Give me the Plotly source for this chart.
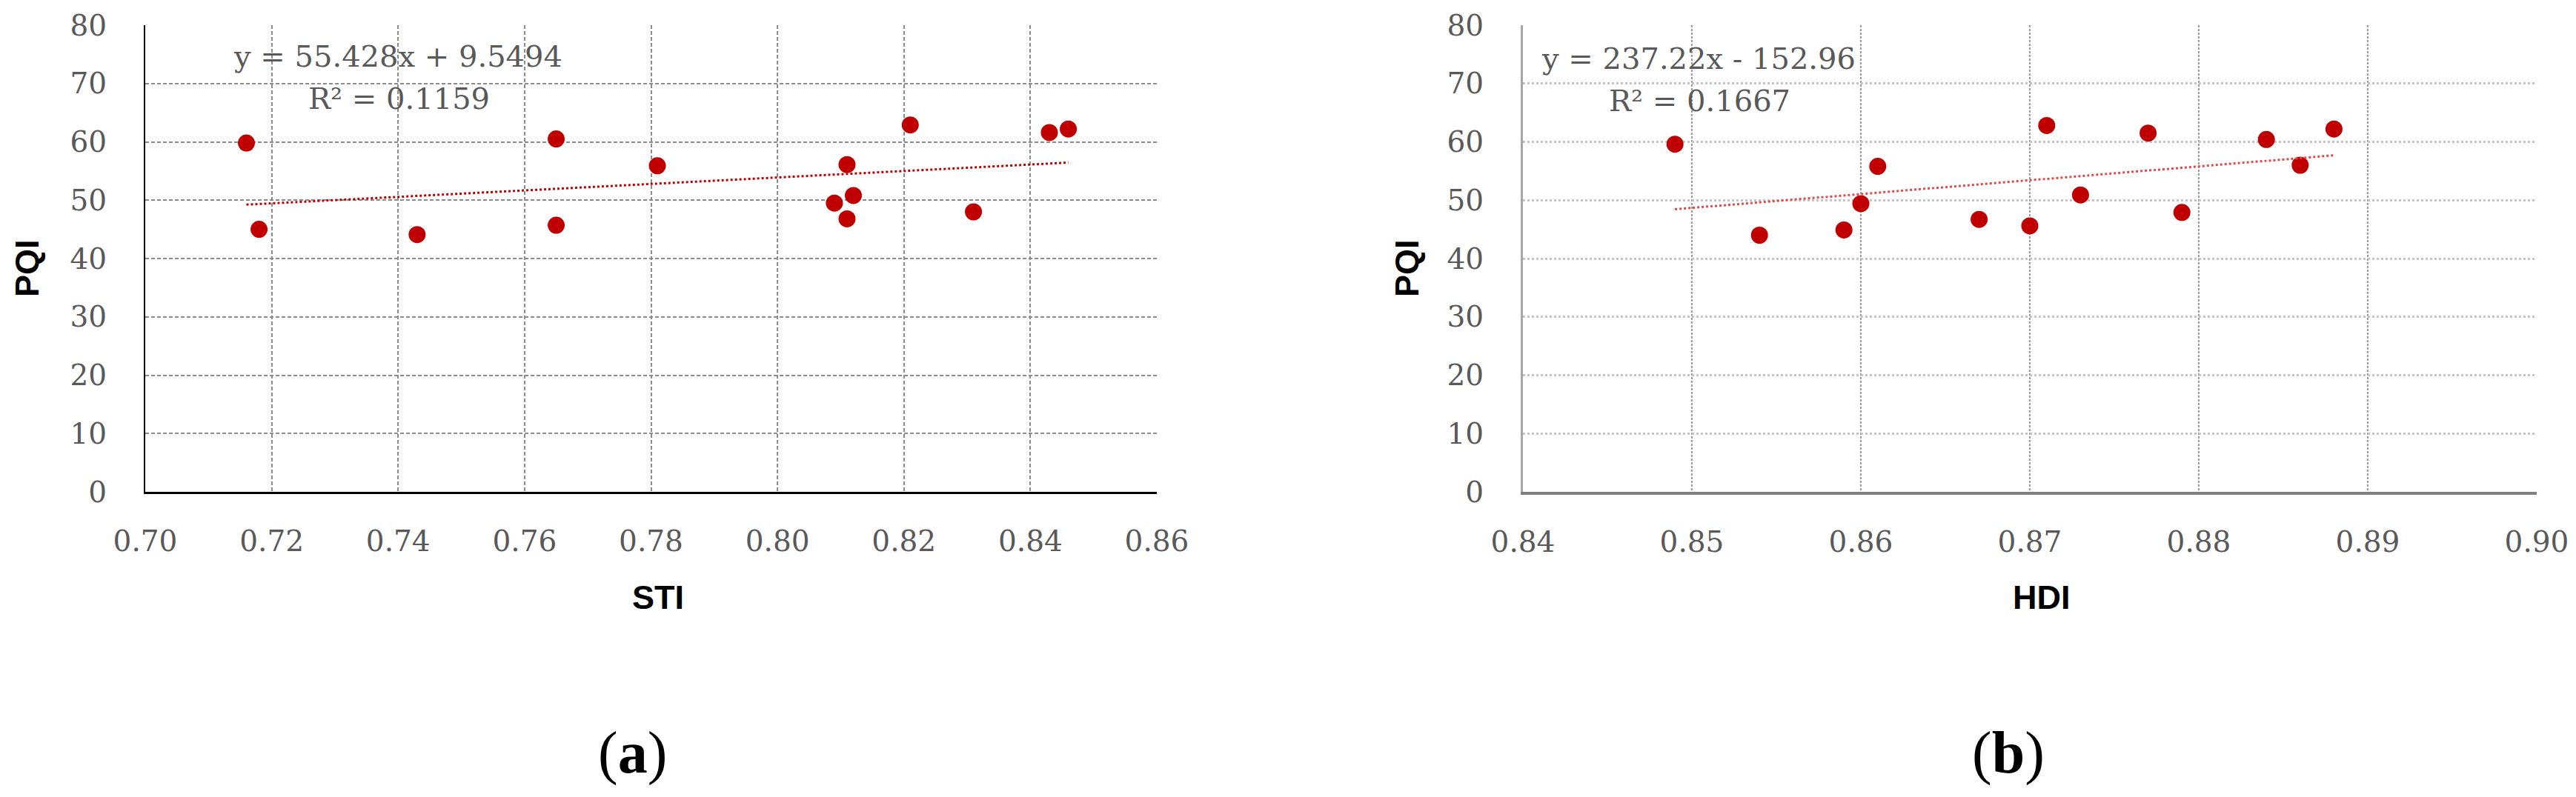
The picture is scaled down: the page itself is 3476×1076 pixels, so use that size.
import plotly.graph_objects as go

W, H = 3476, 1076

# ---- data ----
sti = [0.716, 0.718, 0.743, 0.765, 0.765, 0.781, 0.809, 0.811, 0.811, 0.812, 0.821, 0.831, 0.843, 0.846]
pqi_a = [59.8, 45.0, 44.1, 60.5, 45.7, 55.9, 49.5, 56.1, 46.8, 50.8, 62.9, 48.0, 61.6, 62.2]

hdi = [0.849, 0.854, 0.859, 0.860, 0.861, 0.867, 0.870, 0.871, 0.873, 0.877, 0.879, 0.884, 0.886, 0.888]
pqi_b = [59.6, 44.0, 44.9, 49.4, 55.8, 46.7, 45.6, 62.8, 50.9, 61.5, 47.9, 60.4, 56.0, 62.2]

slope_a, intercept_a, r2_a = 55.428, 9.5494, 0.1159
slope_b, intercept_b, r2_b = 237.22, -152.96, 0.1667

x_ticks_a = [0.70, 0.72, 0.74, 0.76, 0.78, 0.80, 0.82, 0.84, 0.86]
x_ticks_b = [0.84, 0.85, 0.86, 0.87, 0.88, 0.89, 0.90]
y_ticks = [0, 10, 20, 30, 40, 50, 60, 70, 80]

eq_a = "y = 55.428x + 9.5494"
eq_b = "y = 237.22x - 152.96"

# ---- styling ----
RED = "#C00000"
TICK_FONT = dict(family="DejaVu Serif", size=39, color="#595959")
TITLE_FONT = dict(family="Liberation Sans", size=45, color="#000000")


def px(x):
    return x / W


def py(y):
    return 1 - y / H


fig = go.Figure()

# panel (a)
fig.add_trace(go.Scatter(x=sti, y=pqi_a, mode="markers", xaxis="x", yaxis="y",
                         marker=dict(size=23, color=RED), showlegend=False))
ta = [min(sti), max(sti)]
fig.add_trace(go.Scatter(x=ta, y=[slope_a * v + intercept_a for v in ta], mode="lines",
                         xaxis="x", yaxis="y",
                         line=dict(color=RED, width=3, dash="dot"), showlegend=False))

# panel (b)
fig.add_trace(go.Scatter(x=hdi, y=pqi_b, mode="markers", xaxis="x2", yaxis="y2",
                         marker=dict(size=23, color=RED), showlegend=False))
tb = [min(hdi), max(hdi)]
fig.add_trace(go.Scatter(x=tb, y=[slope_b * v + intercept_b for v in tb], mode="lines",
                         xaxis="x2", yaxis="y2",
                         line=dict(color="#E04A4A", width=3, dash="dot"), showlegend=False))

ydom = [py(664), py(34)]

fig.update_layout(
    width=W, height=H,
    margin=dict(l=0, r=0, t=0, b=0, autoexpand=False),
    paper_bgcolor="white", plot_bgcolor="white",
    xaxis=dict(domain=[px(196), px(1561)], anchor="y", range=[0.70, 0.86],
               tickvals=x_ticks_a, ticktext=[f"{v:.2f}" for v in x_ticks_a],
               tickfont=TICK_FONT, ticklabelstandoff=30, automargin=False,
               showgrid=True, gridcolor="#8c8c8c", gridwidth=1.5, griddash="5px,3px",
               showline=True, linecolor="#000000", linewidth=3, zeroline=False),
    yaxis=dict(domain=ydom, anchor="x", range=[0, 80],
               tickvals=y_ticks, ticktext=[str(v) for v in y_ticks],
               tickfont=TICK_FONT, ticklabelstandoff=42, automargin=False,
               showgrid=True, gridcolor="#8c8c8c", gridwidth=1.5, griddash="5px,3px",
               showline=True, linecolor="#000000", linewidth=2, zeroline=False),
    xaxis2=dict(domain=[px(2055), px(3423)], anchor="y2", range=[0.84, 0.90],
                tickvals=x_ticks_b, ticktext=[f"{v:.2f}" for v in x_ticks_b],
                tickfont=TICK_FONT, ticklabelstandoff=30, automargin=False,
                showgrid=True, gridcolor="#9a9a9a", gridwidth=1.5, griddash="3px,2px",
                showline=True, linecolor="#7f7f7f", linewidth=4, zeroline=False),
    yaxis2=dict(domain=ydom, anchor="x2", range=[0, 80],
                tickvals=y_ticks, ticktext=[str(v) for v in y_ticks],
                tickfont=TICK_FONT, ticklabelstandoff=42, automargin=False,
                showgrid=True, gridcolor="#c4c4c4", gridwidth=3, griddash="dot",
                showline=True, linecolor="#a6a6a6", linewidth=3, zeroline=False),
)

ann_font = dict(family="DejaVu Serif", size=40, color="#595959")
anns = [
    # regression equations
    dict(x=px(537), y=py(76), text=eq_a),
    dict(x=px(538), y=py(133), text=f"R² = {r2_a:.4f}"),
    dict(x=px(2292), y=py(79), text=eq_b),
    dict(x=px(2293), y=py(136), text=f"R² = {r2_b:.4f}"),
]
for a in anns:
    a.update(xref="paper", yref="paper", xanchor="center", yanchor="middle",
             showarrow=False, font=ann_font)

# axis titles
titles = [
    dict(x=px(37), y=py(362), text="<b>PQI</b>", textangle=-90),
    dict(x=px(1899), y=py(362), text="<b>PQI</b>", textangle=-90),
    dict(x=px(888), y=py(806), text="<b>STI</b>"),
    dict(x=px(2755), y=py(806), text="<b>HDI</b>"),
]
for a in titles:
    a.update(xref="paper", yref="paper", xanchor="center", yanchor="middle",
             showarrow=False, font=TITLE_FONT)

# panel labels
lab_font = dict(family="Liberation Serif", size=80, color="#000000")
labels = [
    dict(x=px(853), y=py(1016), text="(<b>a</b>)"),
    dict(x=px(2710), y=py(1016), text="(<b>b</b>)"),
]
for a in labels:
    a.update(xref="paper", yref="paper", xanchor="center", yanchor="middle",
             showarrow=False, font=lab_font)

fig.update_layout(annotations=anns + titles + labels)

fig.write_html("out.html",
               config={"displayModeBar": False},
               post_script="document.body.style.margin='0';document.body.style.overflow='hidden';")
